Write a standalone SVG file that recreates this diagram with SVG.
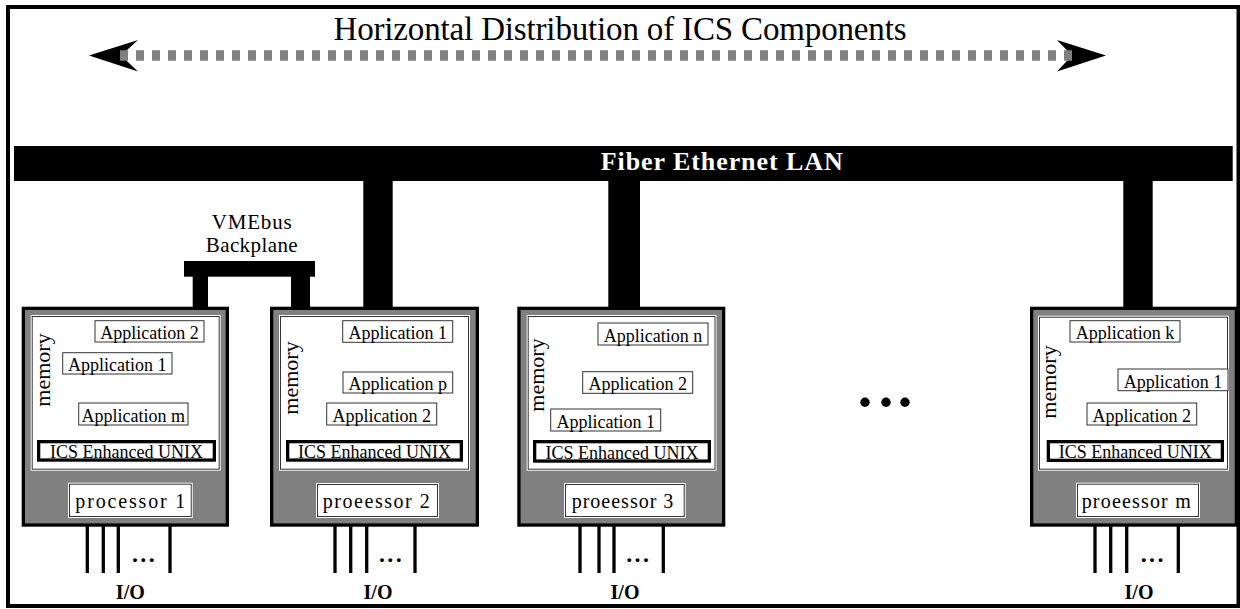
<svg xmlns="http://www.w3.org/2000/svg" width="1240" height="609" viewBox="0 0 1240 609">
<style>
text{font-family:"Liberation Serif","Times New Roman",serif;fill:#000}
.box{fill:#808080;stroke:#000;stroke-width:3.3}
.mem{fill:#fff}
.line{fill:none;stroke:#333;stroke-width:1}
.app{fill:#fff;stroke:#333;stroke-width:1}
.at{font-size:18px;text-anchor:middle}
.os{fill:#fff;stroke:#000;stroke-width:3.3}
.pt{font-size:20px;text-anchor:middle}
.mt{font-size:22px;text-anchor:middle}
.io{stroke:#000;stroke-width:3.3}
.iot{font-size:20px;font-weight:bold;text-anchor:middle}
.dd{font-size:24px;font-weight:bold}
.bar{fill:#000}
</style>
<rect x="8" y="7" width="1230.5" height="599" fill="#fff" stroke="#000" stroke-width="4"/>

<g id="title">
<text x="620" y="40" font-size="33" text-anchor="middle" textLength="573" lengthAdjust="spacing">Horizontal Distribution of ICS Components</text>
<polygon points="89,55.5 138,40 121,55.5 138,71.5" fill="#000"/>
<polygon points="1106,55.5 1057,40 1072,55.5 1057,71.5" fill="#000"/>
<line x1="120" y1="55.5" x2="1072" y2="55.5" stroke="#808080" stroke-width="10.7" stroke-dasharray="8 8"/>
</g>

<g id="connectors">
<rect id="lan" class="bar" x="14" y="146" width="1218.7" height="35"/>
<rect class="bar" x="363.3" y="180" width="29.4" height="128"/>
<rect class="bar" x="608.3" y="180" width="31.7" height="128"/>
<rect class="bar" x="1123.3" y="180" width="29.4" height="128"/>
<rect id="vme" class="bar" x="184" y="261" width="131" height="15.7"/>
<rect class="bar" x="192.7" y="275" width="15.3" height="33"/>
<rect class="bar" x="291" y="275" width="19" height="33"/>
</g>
<text x="721.7" y="170" font-size="26" font-weight="bold" text-anchor="middle" textLength="242" lengthAdjust="spacing" style="fill:#fff">Fiber Ethernet LAN</text>
<text x="251.7" y="229" font-size="21" text-anchor="middle" textLength="80" lengthAdjust="spacing">VMEbus</text>
<text x="251.7" y="251.7" font-size="21" text-anchor="middle" textLength="92" lengthAdjust="spacing">Backplane</text>

<g id="proc1">
<rect class="box" x="23.35" y="308.35" width="204" height="216.7"/>
<rect class="mem" x="30.7" y="315" width="190" height="155.7"/>
<rect class="line" x="32.2" y="316.5" width="187" height="152.7"/>
<text class="mt" transform="translate(50,370) rotate(-90)">memory</text>
<rect class="app" x="95" y="320.7" width="109" height="21.3"/>
<text class="at" x="149.5" y="339">Application 2</text>
<rect class="app" x="62.7" y="352.7" width="109.3" height="21.3"/>
<text class="at" x="117.3" y="371">Application 1</text>
<rect class="app" x="78.7" y="403" width="109.3" height="22"/>
<text class="at" x="133.3" y="422">Application m</text>
<rect class="os" x="38.65" y="441.65" width="175.7" height="18.4"/>
<text class="at" x="126.5" y="458">ICS Enhanced UNIX</text>
<rect class="mem" x="68" y="482.7" width="124.7" height="35.3"/>
<rect class="line" x="69.5" y="484.2" width="121.7" height="32.3"/>
<text class="pt" x="130.3" y="508" textLength="110" lengthAdjust="spacing">processor 1</text>
<line class="io" x1="87.3" y1="526" x2="87.3" y2="573"/>
<line class="io" x1="103.3" y1="526" x2="103.3" y2="573"/>
<line class="io" x1="118.3" y1="526" x2="118.3" y2="573"/>
<line class="io" x1="170" y1="526" x2="170" y2="573"/>
<text class="dd" x="132 140.3 148.7" y="561.5">...</text>
<text class="iot" x="130.3" y="599">I/O</text>
</g>

<g id="proc2">
<rect class="box" x="271.65" y="308.35" width="205.7" height="216.7"/>
<rect class="mem" x="279" y="315" width="191" height="155.7"/>
<rect class="line" x="280.5" y="316.5" width="188" height="152.7"/>
<text class="mt" transform="translate(298,378) rotate(-90)">memory</text>
<rect class="app" x="342.7" y="320.7" width="110" height="21.6"/>
<text class="at" x="397.7" y="339">Application 1</text>
<rect class="app" x="343" y="372" width="109.7" height="21"/>
<text class="at" x="397.8" y="390">Application p</text>
<rect class="app" x="326.7" y="403" width="110" height="22"/>
<text class="at" x="381.7" y="422">Application 2</text>
<rect class="os" x="287.65" y="441.65" width="173.7" height="18.4"/>
<text class="at" x="374.5" y="458">ICS Enhanced UNIX</text>
<rect class="mem" x="316" y="483" width="123" height="35"/>
<rect class="line" x="317.5" y="484.5" width="120" height="32"/>
<text class="pt" x="376.3" y="508" textLength="107" lengthAdjust="spacing">proeessor 2</text>
<line class="io" x1="335" y1="526" x2="335" y2="573"/>
<line class="io" x1="350.7" y1="526" x2="350.7" y2="573"/>
<line class="io" x1="366.7" y1="526" x2="366.7" y2="573"/>
<line class="io" x1="415" y1="526" x2="415" y2="573"/>
<text class="dd" x="379 387.3 395.7" y="561.5">...</text>
<text class="iot" x="378" y="599">I/O</text>
</g>

<g id="proc3">
<rect class="box" x="518.95" y="308.35" width="204.7" height="216.7"/>
<rect class="mem" x="526.7" y="315" width="189.8" height="155.7"/>
<rect class="line" x="528.2" y="316.5" width="186.8" height="152.7"/>
<text class="mt" transform="translate(544,375) rotate(-90)">memory</text>
<rect class="app" x="598" y="323" width="110" height="22"/>
<text class="at" x="653" y="342">Application n</text>
<rect class="app" x="582.7" y="371.7" width="110" height="21.6"/>
<text class="at" x="637.7" y="390">Application 2</text>
<rect class="app" x="550.7" y="409" width="110" height="22"/>
<text class="at" x="605.7" y="428">Application 1</text>
<rect class="os" x="534.65" y="441.65" width="174.7" height="19.4"/>
<text class="at" x="622" y="458.5">ICS Enhanced UNIX</text>
<rect class="mem" x="564" y="483" width="121.7" height="35"/>
<rect class="line" x="565.5" y="484.5" width="118.7" height="32"/>
<text class="pt" x="622.5" y="508" textLength="101.6" lengthAdjust="spacing">proeessor 3</text>
<line class="io" x1="580" y1="526" x2="580" y2="573"/>
<line class="io" x1="599" y1="526" x2="599" y2="573"/>
<line class="io" x1="614" y1="526" x2="614" y2="573"/>
<line class="io" x1="663.3" y1="526" x2="663.3" y2="573"/>
<text class="dd" x="626.3 634.6 643" y="561.5">...</text>
<text class="iot" x="625" y="599">I/O</text>
</g>

<g id="ellipsis">
<circle cx="865" cy="402.3" r="4.7"/>
<circle cx="886" cy="402.3" r="4.7"/>
<circle cx="905" cy="402.3" r="4.7"/>
</g>

<g id="procm">
<rect class="box" x="1031.65" y="308.35" width="204.7" height="216.7"/>
<rect class="mem" x="1038" y="315.7" width="191" height="155"/>
<rect class="line" x="1039.5" y="317.2" width="188" height="152"/>
<text class="mt" transform="translate(1056,382) rotate(-90)">memory</text>
<rect class="app" x="1070" y="320.7" width="110" height="21.3"/>
<text class="at" x="1125" y="339">Application k</text>
<rect class="app" x="1118" y="369" width="110" height="21.7"/>
<text class="at" x="1173" y="388">Application 1</text>
<rect class="app" x="1087" y="403" width="109.7" height="22"/>
<text class="at" x="1141.8" y="422">Application 2</text>
<rect class="os" x="1048.35" y="441.65" width="174" height="18.7"/>
<text class="at" x="1135.3" y="458">ICS Enhanced UNIX</text>
<rect class="mem" x="1076" y="482.7" width="124" height="35.3"/>
<rect class="line" x="1077.5" y="484.2" width="121" height="32.3"/>
<text class="pt" x="1136.2" y="508" textLength="109" lengthAdjust="spacing">proeessor m</text>
<line class="io" x1="1095" y1="526" x2="1095" y2="573"/>
<line class="io" x1="1110.7" y1="526" x2="1110.7" y2="573"/>
<line class="io" x1="1126.7" y1="526" x2="1126.7" y2="573"/>
<line class="io" x1="1178.3" y1="526" x2="1178.3" y2="573"/>
<text class="dd" x="1140.7 1149 1157.4" y="561.5">...</text>
<text class="iot" x="1139" y="599">I/O</text>
</g>
</svg>
